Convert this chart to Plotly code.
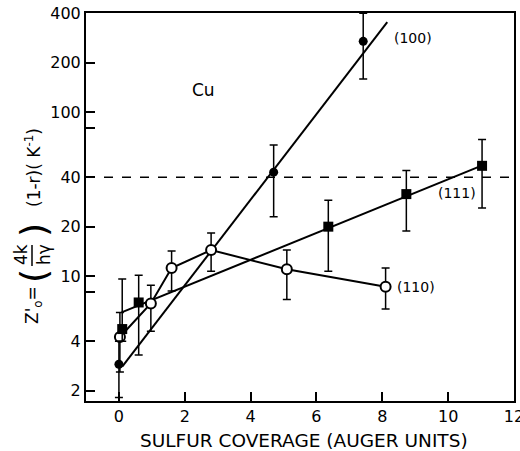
import plotly.graph_objects as go
import math

# ---- data ----
x100 = [0.0, 4.7, 7.42]
y100 = [2.9, 43, 270]
y100_hi = [4.0, 63, 400]
y100_lo = [1.82, 23, 159]
fit100_x = [0.1, 8.15]
fit100_y = [2.8, 354]

x111 = [0.1, 0.6, 6.36, 8.73, 11.03]
y111 = [4.75, 6.9, 20, 31.6, 47]
y111_hi = [9.6, 10.1, 29, 44, 68]
y111_lo = [4.0, 3.3, 10.7, 18.8, 26]
fit111_x = [0.08, 11.0]
fit111_y = [6.0, 47]

x110 = [0.03, 0.97, 1.6, 2.8, 5.1, 8.1]
y110 = [4.25, 6.8, 11.2, 14.4, 11.0, 8.6]
y110_hi = [6.0, 8.8, 14.2, 18.3, 14.4, 11.2]
y110_lo = [2.6, 4.6, 8.1, 10.7, 7.2, 6.3]

ref_level = 40
y_tickvals = [2, 4, 10, 20, 40, 100, 200, 400]
y_ticktext = ["2", "4", "10", "20", "40", "100", "200", "400"]
y_minor_tickvals = [8, 80]
x_tickvals = [0, 2, 4, 6, 8, 10, 12]

FONT = "DejaVu Sans"
W, H = 520, 451
L, R, T, B = 86, 6, 13, 50
PW, PH = W - L - R, H - T - B


def px(xp):
    return (xp - L) / PW


def py(yp):
    return (H - B - yp) / PH


def err(vals, hi, lo):
    return ([h - v for v, h in zip(vals, hi)], [v - l for v, l in zip(vals, lo)])


fig = go.Figure()
eb = dict(type="data", symmetric=False, color="black", thickness=1.5, width=4)

# fit lines
fig.add_trace(go.Scatter(x=fit100_x, y=fit100_y, mode="lines",
                         line=dict(color="black", width=2), showlegend=False))
fig.add_trace(go.Scatter(x=fit111_x, y=fit111_y, mode="lines",
                         line=dict(color="black", width=2), showlegend=False))

p, m = err(y110, y110_hi, y110_lo)
fig.add_trace(go.Scatter(x=x110, y=y110, mode="lines+markers",
                         line=dict(color="black", width=2),
                         marker=dict(symbol="circle", size=10, color="white",
                                     line=dict(color="black", width=2)),
                         error_y=dict(array=p, arrayminus=m, **eb), showlegend=False))
p, m = err(y111, y111_hi, y111_lo)
fig.add_trace(go.Scatter(x=x111, y=y111, mode="markers",
                         marker=dict(symbol="square", size=10, color="black"),
                         error_y=dict(array=p, arrayminus=m, **eb), showlegend=False))
p, m = err(y100, y100_hi, y100_lo)
fig.add_trace(go.Scatter(x=x100, y=y100, mode="markers",
                         marker=dict(symbol="circle", size=9, color="black"),
                         error_y=dict(array=p, arrayminus=m, **eb), showlegend=False))

fig.add_shape(type="line", xref="paper", yref="y", x0=0, x1=1, y0=ref_level, y1=ref_level,
              line=dict(color="black", width=1.5, dash="dash"))

ann = []
lab_font = dict(family=FONT, size=14, color="black")
ann.append(dict(x=8.3, y=math.log10(282), text="(100)", xanchor="left", font=lab_font))
ann.append(dict(x=9.64, y=math.log10(32), text="(111)", xanchor="left", font=lab_font))
ann.append(dict(x=8.4, y=math.log10(8.6), text="(110)", xanchor="left", font=lab_font))
ann.append(dict(x=2.58, y=math.log10(136), text="Cu", xanchor="center",
                font=dict(family=FONT, size=17, color="black")))
for a in ann:
    a.update(xref="x", yref="y", showarrow=False, yanchor="middle")

tf = dict(family=FONT, size=17, color="black")
big = dict(family=FONT, size=36, color="black")
paper_ann = [
    dict(x=px(304), y=py(440), text="SULFUR COVERAGE (AUGER UNITS)",
         font=dict(family=FONT, size=18.5, color="black")),
    dict(x=px(33), y=py(305), text="Z'<sub>o</sub>=", textangle=-90, font=tf),
    dict(x=px(33), y=py(276), text="(", textangle=-90, font=big),
    dict(x=px(21), y=py(255), text="4k", textangle=-90, font=tf),
    dict(x=px(44), y=py(255), text="hγ", textangle=-90, font=tf),
    dict(x=px(33), y=py(230), text=")", textangle=-90, font=big),
    dict(x=px(33), y=py(168), text="(1-r)( K<sup>-1</sup>)", textangle=-90, font=tf),
]
for a in paper_ann:
    a.update(xref="paper", yref="paper", showarrow=False,
             xanchor="center", yanchor="middle")
    ann.append(a)

fig.add_shape(type="line", xref="paper", yref="paper",
              x0=px(32), x1=px(32), y0=py(245), y1=py(266),
              line=dict(color="black", width=1.5))

fig.update_layout(
    width=W, height=H,
    margin=dict(l=L, r=R, t=T, b=B, autoexpand=False),
    paper_bgcolor="white", plot_bgcolor="white",
    annotations=ann,
    font=dict(family=FONT, color="black"),
    xaxis=dict(range=[-1, 12], tickvals=x_tickvals, ticks="inside", ticklen=9,
               tickwidth=1.5, tickcolor="black", showline=True, linecolor="black",
               linewidth=2, mirror=True, showgrid=False, zeroline=False, automargin=False,
               ticklabeloverflow="allow",
               tickfont=dict(family=FONT, size=16, color="black")),
    yaxis=dict(type="log", range=[0.238, 2.604], tickvals=y_tickvals, ticktext=y_ticktext,
               ticks="inside", ticklen=9, tickwidth=1.5, tickcolor="black",
               showline=True, linecolor="black", linewidth=2, mirror=True,
               showgrid=False, zeroline=False, automargin=False,
               ticklabeloverflow="allow",
               minor=dict(tickvals=y_minor_tickvals, ticks="inside", ticklen=9,
                          tickwidth=1.5, tickcolor="black", showgrid=False),
               tickfont=dict(family=FONT, size=16, color="black")),
)

fig.write_html(
    "out.html",
    config={"displayModeBar": False},
    post_script="document.body.style.margin='0';document.body.style.overflow='hidden';",
)
